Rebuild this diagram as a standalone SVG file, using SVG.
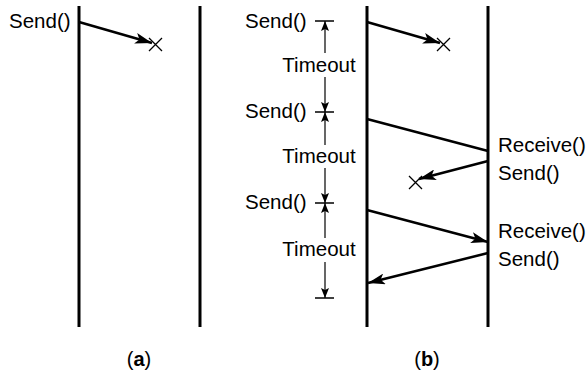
<svg xmlns="http://www.w3.org/2000/svg" width="587" height="372" viewBox="0 0 587 372">
  <style>
    text { font-family: "Liberation Sans", Arial, sans-serif; font-size: 20.5px; fill: #000; }
    .caption { font-size: 20px; text-anchor: middle; }
    .mid { text-anchor: middle; }
    .life { stroke: #000; stroke-width: 3; }
    .msg { stroke: #000; stroke-width: 2.5; fill: none; }
    .tick { stroke: #000; stroke-width: 1.5; }
    .timer { stroke: #000; stroke-width: 1.2; fill: none; }
    .lost { stroke: #000; stroke-width: 1.3; }
  </style>
  <defs>
    <marker id="head" viewBox="0 0 17 11" markerWidth="17" markerHeight="11" refX="17" refY="5.5" orient="auto" markerUnits="userSpaceOnUse">
      <path d="M0,0 L17,5.5 L0,11 L4,5.5 z" fill="#000"/>
    </marker>
    <marker id="tip" viewBox="0 0 10 8" markerWidth="10" markerHeight="8" refX="10" refY="4" orient="auto" markerUnits="userSpaceOnUse">
      <path d="M0,0 L10,4 L0,8 L2,4 z" fill="#000"/>
    </marker>
  </defs>

  <!-- (a): one sender, one receiver, message lost -->
  <g id="a-sender">
    <line class="life" x1="79" y1="6" x2="79" y2="327"/>
    <text x="9" y="28">Send()</text>
  </g>
  <g id="a-receiver">
    <line class="life" x1="200" y1="6" x2="200" y2="327"/>
  </g>
  <g id="a-caption">
    <text class="caption" x="139" y="366">(<tspan font-weight="bold">a</tspan>)</text>
  </g>

  <!-- (b): retransmission after timeouts -->
  <g id="b-sender">
    <line class="life" x1="367" y1="6" x2="367" y2="327"/>
    <text x="245" y="28">Send()</text>
    <text x="245" y="118">Send()</text>
    <text x="245" y="209">Send()</text>
  </g>
  <g id="b-receiver">
    <line class="life" x1="488" y1="6" x2="488" y2="327"/>
    <text x="498" y="152">Receive()</text>
    <text x="498" y="180">Send()</text>
    <text x="498" y="238">Receive()</text>
    <text x="498" y="266">Send()</text>
  </g>
  <g id="b-timers">
    <line class="tick" x1="315" y1="21" x2="334" y2="21"/>
    <line class="tick" x1="315" y1="112" x2="334" y2="112"/>
    <line class="tick" x1="315" y1="203" x2="334" y2="203"/>
    <line class="tick" x1="315" y1="298" x2="334" y2="298"/>
    <text class="mid" x="319" y="72">Timeout</text>
    <text class="mid" x="319" y="163">Timeout</text>
    <text class="mid" x="319" y="256">Timeout</text>
  </g>
  <g id="b-caption">
    <text class="caption" x="427" y="366">(<tspan font-weight="bold">b</tspan>)</text>
  </g>

  <g id="connectors">
    <!-- timeout interval arrows -->
    <line class="timer" x1="325" y1="53" x2="325" y2="21" marker-end="url(#tip)"/>
    <line class="timer" x1="325" y1="77" x2="325" y2="112" marker-end="url(#tip)"/>
    <line class="timer" x1="325" y1="145" x2="325" y2="112" marker-end="url(#tip)"/>
    <line class="timer" x1="325" y1="168" x2="325" y2="203" marker-end="url(#tip)"/>
    <line class="timer" x1="325" y1="238" x2="325" y2="203" marker-end="url(#tip)"/>
    <line class="timer" x1="325" y1="262" x2="325" y2="298" marker-end="url(#tip)"/>

    <!-- (a) lost message -->
    <line class="msg" x1="79" y1="22" x2="152" y2="43" marker-end="url(#head)"/>
    <path class="lost" d="M149,38 L162,51 M162,38 L149,51"/>

    <!-- (b) messages -->
    <line class="msg" x1="367" y1="22" x2="440" y2="43" marker-end="url(#head)"/>
    <path class="lost" d="M437,38 L450,51 M450,38 L437,51"/>
    <line class="msg" x1="367" y1="119" x2="488" y2="151"/>
    <line class="msg" x1="488" y1="161" x2="419" y2="179" marker-end="url(#head)"/>
    <path class="lost" d="M409,176 L422,189 M422,176 L409,189"/>
    <line class="msg" x1="367" y1="210" x2="488" y2="242" marker-end="url(#head)"/>
    <line class="msg" x1="488" y1="253" x2="368" y2="283" marker-end="url(#head)"/>
  </g>
</svg>
